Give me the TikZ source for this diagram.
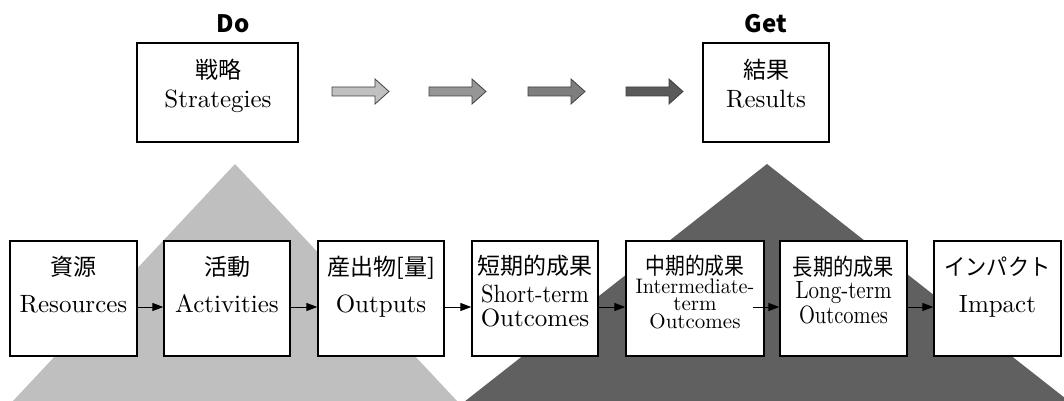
\documentclass[tikz,border=0pt]{standalone}
\usepackage{fontspec}
\usepackage{graphicx}
\setmainfont{lmroman10-regular}[Extension=.otf]
\newfontfamily\jp{Noto Sans CJK JP}
\usetikzlibrary{arrows.meta}

\definecolor{paleband}{HTML}{BFBFBF}
\definecolor{darkband}{HTML}{606060}
\definecolor{stepA}{HTML}{C0C0C0}
\definecolor{stepB}{HTML}{969696}
\definecolor{stepC}{HTML}{7E7E7E}
\definecolor{stepD}{HTML}{5A5A5A}

\newcommand{\squeeze}[2]{\scalebox{#1}[1]{#2}}

\begin{document}
\begin{tikzpicture}[x=1pt,y=-1pt,
  box/.style={draw=black, line width=1.3pt, fill=white, inner sep=0pt},
  jptxt/.style={font=\jp\fontsize{23}{25}\selectfont, inner sep=0pt, anchor=base},
  entxt/.style={font=\fontsize{25}{27}\selectfont, inner sep=0pt, anchor=base},
  tighttxt/.style={font=\fontsize{21}{23}\selectfont, inner sep=0pt, anchor=base},
  headtxt/.style={font=\jp\bfseries\fontsize{24}{26}\selectfont, inner sep=0pt, anchor=base},
  conn/.style={line width=1pt, -{Triangle[length=11pt,width=8pt]}},
  flowarrow/.style={draw=black!75, line width=0.8pt}
]
\useasboundingbox (0,0) rectangle (1064,401);

% background triangles
\begin{scope}
  \clip (0,0) rectangle (1064,401);
  \fill[paleband] (235,164) -- (12,402) -- (458,402) -- cycle;
  \fill[darkband] (767,164) -- (464,402) -- (1070,402) -- cycle;
\end{scope}

% top row: strategies and results
\node[box, minimum width=161pt, minimum height=99pt] (strat) at (217.5,92.5) {};
\node[box, minimum width=126pt, minimum height=99pt] (res) at (766,92.5) {};
\node[headtxt] (do) at (233,33) {Do};
\node[headtxt] (get) at (766,33) {Get};
\node[jptxt] (stratjp) at (218,79) {戦略};
\node[entxt] (straten) at (218,107) {Strategies};
\node[jptxt] (resjp) at (766,79) {結果};
\node[entxt] (resen) at (766,107) {Results};

% block arrows between strategies and results
\foreach \x/\c in {332/stepA, 429/stepB, 528/stepC, 626/stepD}{
  \filldraw[flowarrow, fill=\c]
    (\x,87) -- (\x+43,87) -- (\x+43,79) -- (\x+57,91.5) -- (\x+43,104)
    -- (\x+43,96) -- (\x,96) -- cycle;
}

% bottom row: logic model stages
\node[box, minimum width=127pt, minimum height=115pt] (b1) at (73.5,298.5) {};
\node[box, minimum width=126pt, minimum height=115pt] (b2) at (227,298.5) {};
\node[box, minimum width=126pt, minimum height=115pt] (b3) at (381,298.5) {};
\node[box, minimum width=126pt, minimum height=115pt] (b4) at (535,298.5) {};
\node[box, minimum width=138pt, minimum height=115pt] (b5) at (695,298.5) {};
\node[box, minimum width=127pt, minimum height=115pt] (b6) at (843.5,298.5) {};
\node[box, minimum width=127pt, minimum height=115pt] (b7) at (997.5,298.5) {};

\node[jptxt] (t1) at (73.5,275) {資源};
\node[entxt] (e1) at (73.5,312) {Resources};
\node[jptxt] (t2) at (227,275) {活動};
\node[entxt] (e2) at (227,312) {Activities};
\node[jptxt] (t3) at (381,275) {産出物[量]};
\node[entxt] (e3) at (381,312) {Outputs};
\node[jptxt] (t4) at (535,274) {短期的成果};
\node[entxt] (e4a) at (535,302) {\squeeze{0.9}{Short-term}};
\node[entxt] (e4b) at (535,326) {Outcomes};
\node[jptxt] (t5) at (695,274) {\squeeze{0.86}{中期的成果}};
\node[tighttxt] (e5a) at (695,293) {\squeeze{0.96}{Intermediate-}};
\node[tighttxt] (e5b) at (695,310.5) {term};
\node[tighttxt] (e5c) at (695,328) {Outcomes};
\node[jptxt] (t6) at (843.5,275) {\squeeze{0.88}{長期的成果}};
\node[entxt] (e6a) at (843.5,298) {\squeeze{0.84}{Long-term}};
\node[entxt] (e6b) at (843.5,323) {\squeeze{0.82}{Outcomes}};
\node[jptxt] (t7) at (997.5,275) {\squeeze{0.92}{インパクト}};
\node[entxt] (e7) at (997.5,312) {Impact};

% connectors between stages
\draw[conn] ([yshift=-8.5pt]b1.east) -- ([yshift=-8.5pt]b2.west);
\draw[conn] ([yshift=-8.5pt]b2.east) -- ([yshift=-8.5pt]b3.west);
\draw[conn] ([yshift=-8.5pt]b3.east) -- ([yshift=-8.5pt]b4.west);
\draw[conn] ([yshift=-8.5pt]b4.east) -- ([yshift=-8.5pt]b5.west);
\draw[conn] ([xshift=-12pt,yshift=-8.5pt]b5.east) -- ([yshift=-8.5pt]b6.west);
\draw[conn] ([yshift=-8.5pt]b6.east) -- ([yshift=-8.5pt]b7.west);
\end{tikzpicture}
\end{document}
